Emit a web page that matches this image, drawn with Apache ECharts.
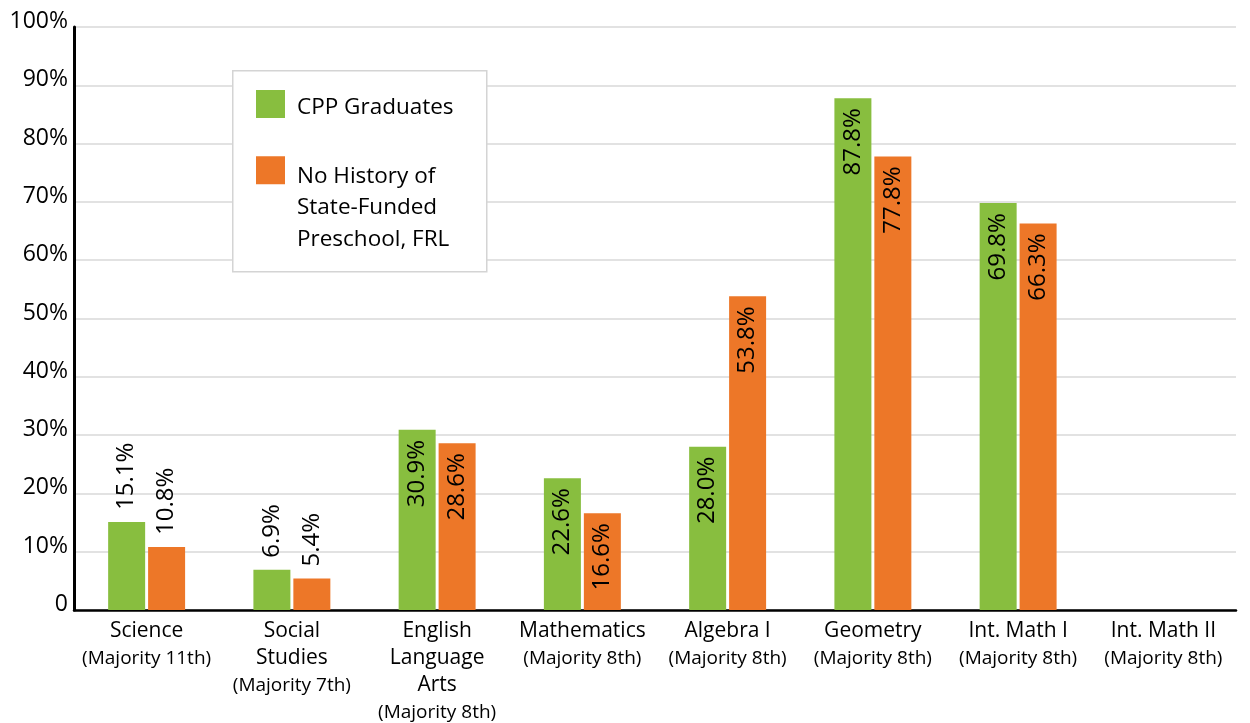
<!DOCTYPE html>
<html><head><meta charset="utf-8">
<script src="https://cdn.jsdelivr.net/npm/echarts@6/dist/echarts.min.js"></script>
<style>html,body{margin:0;padding:0;background:#fff}#c{width:1250px;height:723px}</style>
</head><body><div id="c"></div>
<script>
const categories = ['Science', 'Social\nStudies', 'English\nLanguage\nArts', 'Mathematics', 'Algebra I', 'Geometry', 'Int. Math I', 'Int. Math II'];
const gradeNotes = ['(Majority 11th)', '(Majority 7th)', '(Majority 8th)', '(Majority 8th)', '(Majority 8th)', '(Majority 8th)', '(Majority 8th)', '(Majority 8th)'];
const cppGraduates = [15.1, 6.9, 30.9, 22.6, 28.0, 87.8, 69.8, null];
const noHistoryFRL = [10.8, 5.4, 28.6, 16.6, 53.8, 77.8, 66.3, null];
const seriesNames = ['CPP Graduates', 'No History of\nState-Funded\nPreschool, FRL'];
const yMin = 0, yMax = 100, yStep = 10;

const FONT = '"Open Sans", sans-serif';

function labelFor(v) {
  if (v >= 16) {
    return { position: 'insideTop', align: 'right', verticalAlign: 'middle', distance: 10 };
  }
  return { position: 'top', align: 'left', verticalAlign: 'middle', distance: 12 };
}
function toData(arr) {
  return arr.map(v => v == null ? null : { value: v, label: labelFor(v) });
}
function legendText(name) {
  return '{s| }\n' + name.split('\n').map(l => '{t|' + l + '}').join('\n');
}

const chart = echarts.init(document.getElementById('c'));
chart.setOption({
  animation: false,
  textStyle: { fontFamily: FONT },
  grid: { left: 74, right: 14, top: 27, bottom: 113, containLabel: false },
  graphic: {
    elements: [{
      type: 'rect', z: 3, left: 232, top: 70,
      shape: { width: 254, height: 201 },
      style: { fill: '#fff', stroke: '#d4d4d4', lineWidth: 1.5 }
    }]
  },
  legend: [
    {
      data: [seriesNames[0]], orient: 'vertical', left: 256, top: 88, padding: 0, z: 5,
      itemWidth: 29, itemHeight: 28, icon: 'rect',
      formatter: name => legendText(name),
      textStyle: {
        color: '#000', fontFamily: FONT,
        rich: {
          s: { fontSize: 4, lineHeight: 8 },
          t: { fontSize: 22.5, lineHeight: 28, color: '#000', fontFamily: FONT, padding: [0, 0, 0, 7] }
        }
      }
    },
    {
      data: [seriesNames[1]], orient: 'vertical', left: 256, top: 121, padding: 0, z: 5,
      itemWidth: 29, itemHeight: 28, icon: 'rect',
      formatter: name => legendText(name),
      textStyle: {
        color: '#000', fontFamily: FONT,
        rich: {
          s: { fontSize: 4, lineHeight: 75 },
          t: { fontSize: 22.5, lineHeight: 31.5, color: '#000', fontFamily: FONT, padding: [0, 0, 0, 7] }
        }
      }
    }
  ],
  xAxis: {
    type: 'category',
    data: categories,
    axisLine: { lineStyle: { color: '#000', width: 2.5 } },
    axisTick: { show: false },
    axisLabel: {
      interval: 0, margin: 8, color: '#000',
      formatter: (value, idx) => value.split('\n').map(l => '{a|' + l + '}').join('\n') + '\n{b|' + gradeNotes[idx] + '}',
      rich: {
        a: { fontSize: 21, lineHeight: 27, color: '#000', fontFamily: FONT },
        b: { fontSize: 19, lineHeight: 27, color: '#000', fontFamily: FONT }
      }
    }
  },
  yAxis: {
    type: 'value', min: yMin, max: yMax, interval: yStep,
    axisLine: { show: true, lineStyle: { color: '#000', width: 3 } },
    axisTick: { show: false },
    axisLabel: {
      margin: 6, fontSize: 23, color: '#000', fontFamily: FONT,
      verticalAlign: 'bottom', lineHeight: 11,
      formatter: v => v === 0 ? '0' : v + '%'
    },
    splitLine: { lineStyle: { color: '#d9d9d9', width: 1.5 } }
  },
  series: [
    {
      name: seriesNames[0], type: 'bar', data: toData(cppGraduates),
      barWidth: 37, barGap: '8%',
      itemStyle: { color: '#88BE3F' },
      label: { show: true, rotate: 90, fontSize: 24, color: '#000', fontFamily: FONT,
        formatter: p => p.value.toFixed(1) + '%' }
    },
    {
      name: seriesNames[1], type: 'bar', data: toData(noHistoryFRL),
      barWidth: 37, barGap: '8%',
      itemStyle: { color: '#ED7728' },
      label: { show: true, rotate: 90, fontSize: 24, color: '#000', fontFamily: FONT,
        formatter: p => p.value.toFixed(1) + '%' }
    }
  ]
});
</script>
</body></html>
